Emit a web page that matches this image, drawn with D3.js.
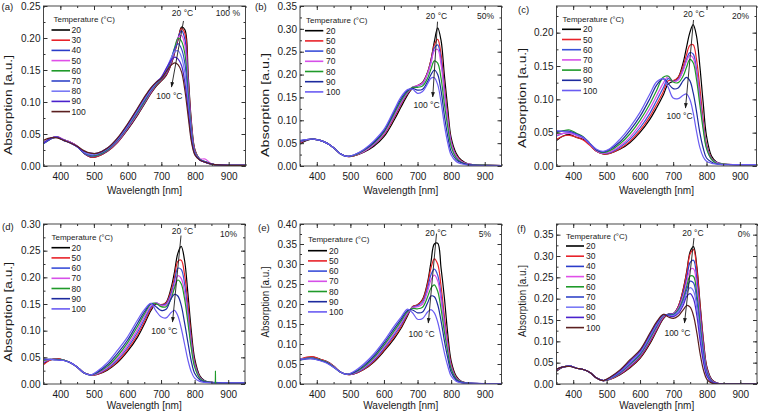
<!DOCTYPE html>
<html><head><meta charset="utf-8">
<script src="https://cdn.jsdelivr.net/npm/d3@7"></script>
<style>
body{margin:0;background:#fff}
text{font-family:"Liberation Sans",Arial,sans-serif;fill:#1a1a1a}
</style>
</head><body>
<svg id="chart" width="760" height="415"></svg>
<script>
// ---------------- data ----------------
const wavelengths = [350,370,390,410,430,450,470,490,510,540,570,600,630,650,670,685,700,715,730,740,750,760,770,780,790,800,815,830,850,900,950];
const temps9 = ["20","30","40","50","60","70","80","90","100"];
const temps7 = ["20","50","60","70","80","90","100"];
const xTickLabels = [400,500,600,700,800,900];

// (a) 100 %
const a20 = [.036,.043,.045,.041,.037,.031,.020,.014,.015,.023,.037,.057,.080,.097,.114,.125,.133,.142,.160,.178,.198,.217,.213,.140,.065,.025,.010,.006,.003,.001,.001];
const a30 = [.036,.043,.046,.041,.037,.031,.020,.014,.015,.023,.037,.058,.081,.098,.115,.126,.134,.143,.161,.179,.199,.215,.207,.135,.062,.024,.010,.006,.003,.001,.001];
const a40 = [.035,.042,.045,.041,.037,.031,.020,.015,.016,.024,.038,.059,.082,.099,.116,.127,.135,.145,.163,.181,.201,.211,.198,.128,.058,.022,.010,.006,.003,.001,.001];
const a50 = [.035,.042,.046,.041,.037,.031,.021,.016,.017,.025,.039,.060,.083,.100,.117,.128,.136,.147,.165,.183,.201,.204,.188,.120,.055,.022,.011,.011,.003,.001,.001];
const a60 = [.035,.042,.045,.040,.036,.030,.021,.016,.017,.025,.040,.061,.084,.101,.118,.128,.136,.148,.167,.186,.200,.195,.175,.112,.052,.021,.010,.007,.003,.001,.001];
const a70 = [.035,.042,.045,.040,.036,.030,.021,.017,.018,.026,.041,.062,.086,.103,.119,.129,.137,.150,.169,.184,.191,.183,.160,.103,.048,.020,.010,.007,.003,.001,.001];
const a80 = [.036,.043,.045,.040,.036,.030,.022,.018,.019,.027,.042,.063,.088,.105,.120,.130,.138,.152,.170,.179,.180,.170,.145,.094,.044,.019,.009,.006,.003,.001,.001];
const a90 = [.036,.043,.045,.040,.036,.030,.023,.020,.020,.028,.043,.065,.090,.107,.122,.131,.139,.153,.166,.170,.167,.157,.130,.085,.040,.018,.009,.006,.003,.001,.001];
const a100 = [.040,.044,.044,.040,.036,.031,.024,.020,.020,.028,.044,.066,.091,.108,.123,.131,.137,.148,.158,.161,.158,.147,.118,.076,.036,.017,.009,.006,.003,.001,.001];

// (b) 50 %
const b20 = [.048,.056,.059,.056,.050,.040,.027,.021,.022,.030,.043,.064,.100,.128,.155,.170,.176,.183,.205,.232,.272,.302,.275,.198,.125,.062,.028,.013,.005,.002,.001];
const b50 = [.050,.057,.059,.056,.050,.040,.027,.021,.022,.031,.046,.068,.105,.133,.158,.171,.176,.182,.205,.232,.265,.277,.245,.175,.110,.055,.024,.011,.004,.002,.001];
const b60 = [.052,.057,.059,.056,.050,.040,.027,.021,.023,.032,.047,.070,.108,.136,.160,.172,.175,.180,.203,.228,.258,.265,.232,.165,.102,.052,.022,.010,.004,.002,.001];
const b70 = [.054,.058,.059,.056,.050,.040,.027,.021,.023,.032,.048,.071,.110,.138,.161,.173,.176,.181,.202,.225,.252,.255,.222,.158,.098,.050,.021,.010,.004,.002,.001];
const b80 = [.055,.058,.059,.056,.050,.040,.027,.021,.023,.034,.050,.074,.114,.142,.163,.172,.172,.175,.192,.212,.230,.225,.192,.135,.085,.043,.018,.008,.003,.002,.001];
const b90 = [.055,.058,.059,.056,.050,.040,.027,.021,.024,.035,.052,.077,.118,.146,.165,.170,.166,.168,.185,.200,.210,.200,.165,.110,.065,.032,.014,.007,.003,.001,.001];
const b100 = [.056,.058,.059,.056,.050,.040,.027,.021,.024,.036,.055,.080,.122,.150,.167,.168,.159,.163,.180,.192,.193,.178,.140,.090,.050,.024,.010,.005,.002,.001,.001];

// (c) 20 %
const c20 = [.038,.045,.047,.043,.040,.032,.022,.018,.019,.025,.035,.050,.070,.087,.106,.123,.127,.133,.155,.178,.200,.212,.195,.150,.095,.045,.015,.006,.003,.002,.002];
const c50 = [.040,.045,.046,.043,.039,.031,.022,.018,.019,.026,.037,.053,.074,.092,.111,.128,.128,.133,.150,.167,.181,.182,.160,.118,.070,.033,.012,.005,.003,.002,.002];
const c60 = [.045,.049,.050,.046,.042,.033,.023,.019,.020,.028,.040,.057,.079,.098,.117,.131,.127,.130,.145,.160,.170,.168,.145,.105,.062,.030,.011,.005,.003,.002,.002];
const c70 = [.046,.049,.049,.046,.042,.033,.023,.019,.021,.030,.043,.062,.086,.105,.124,.134,.127,.129,.143,.157,.166,.162,.140,.100,.060,.028,.010,.005,.003,.002,.002];
const c80 = [.050,.053,.054,.049,.044,.034,.024,.020,.023,.033,.048,.068,.093,.113,.133,.135,.126,.125,.135,.148,.160,.155,.130,.092,.055,.026,.010,.004,.003,.002,.002];
const c90 = [.052,.052,.052,.048,.043,.034,.024,.021,.025,.036,.053,.074,.101,.121,.131,.124,.116,.117,.128,.133,.128,.110,.082,.050,.027,.012,.006,.003,.002,.002,.002];
const c100 = [.053,.052,.051,.047,.043,.034,.025,.022,.026,.040,.058,.080,.108,.126,.131,.118,.102,.101,.106,.108,.100,.080,.052,.028,.014,.007,.004,.003,.002,.002,.002];

// (d) 10 %
const d20 = [.038,.045,.047,.045,.040,.032,.021,.017,.018,.026,.040,.061,.088,.112,.138,.150,.148,.153,.180,.210,.245,.258,.232,.170,.100,.048,.016,.006,.003,.002,.002];
const d50 = [.036,.045,.047,.045,.040,.032,.021,.017,.018,.027,.042,.064,.092,.116,.141,.151,.149,.152,.175,.200,.230,.232,.205,.150,.088,.042,.014,.005,.003,.002,.002];
const d60 = [.040,.046,.046,.045,.040,.032,.021,.017,.019,.029,.045,.068,.097,.121,.144,.152,.148,.150,.170,.192,.217,.215,.188,.135,.080,.038,.013,.005,.003,.002,.002];
const d70 = [.042,.046,.046,.045,.040,.032,.021,.017,.020,.031,.048,.072,.102,.126,.147,.152,.147,.148,.165,.185,.203,.198,.172,.125,.073,.035,.012,.005,.003,.002,.002];
const d80 = [.044,.046,.046,.045,.040,.032,.021,.017,.021,.033,.052,.077,.108,.131,.150,.151,.145,.145,.160,.180,.195,.188,.160,.115,.067,.032,.011,.005,.003,.002,.002];
const d90 = [.046,.046,.045,.044,.040,.032,.021,.017,.022,.036,.057,.082,.114,.135,.151,.145,.138,.140,.160,.168,.165,.148,.115,.078,.043,.020,.008,.004,.003,.002,.002];
const d100 = [.047,.046,.045,.044,.040,.032,.021,.017,.024,.040,.063,.088,.120,.139,.151,.137,.126,.124,.134,.138,.128,.105,.075,.045,.023,.011,.005,.003,.002,.002,.002];
const dSpikeWl = [859,861.5,862,862.5,865];
const dSpikeVal = [0.002,0.002,0.025,0.002,0.002];

// (e) 5 %
const e20 = [.060,.066,.067,.062,.056,.045,.030,.024,.025,.036,.055,.082,.113,.138,.170,.193,.198,.212,.255,.305,.350,.352,.290,.215,.125,.058,.020,.007,.002,.001,.001];
const e50 = [.062,.067,.068,.062,.056,.045,.030,.024,.025,.037,.057,.085,.117,.142,.173,.193,.198,.210,.250,.290,.313,.300,.245,.170,.105,.050,.017,.006,.002,.001,.001];
const e60 = [.062,.064,.065,.060,.055,.044,.030,.024,.026,.039,.060,.089,.122,.147,.176,.192,.196,.205,.240,.273,.287,.272,.222,.155,.095,.045,.015,.006,.002,.001,.001];
const e70 = [.062,.064,.064,.060,.054,.044,.030,.024,.027,.041,.063,.093,.127,.151,.178,.191,.193,.200,.232,.260,.272,.258,.210,.147,.090,.043,.014,.005,.002,.001,.001];
const e80 = [.060,.064,.064,.060,.054,.043,.030,.024,.028,.043,.066,.097,.132,.156,.181,.189,.188,.192,.218,.240,.248,.232,.188,.130,.080,.038,.013,.005,.002,.001,.001];
const e90 = [.060,.063,.063,.059,.053,.042,.030,.024,.029,.046,.070,.102,.138,.161,.184,.185,.178,.180,.203,.220,.218,.198,.158,.108,.065,.030,.010,.004,.002,.001,.001];
const e100 = [.062,.063,.063,.058,.052,.042,.030,.024,.031,.050,.075,.107,.144,.166,.187,.178,.162,.164,.180,.186,.178,.155,.118,.078,.045,.020,.007,.003,.002,.001,.001];

// (f) 0 %
const f20 = [.030,.040,.042,.037,.034,.027,.014,.008,.011,.022,.038,.060,.095,.125,.153,.164,.165,.183,.225,.265,.310,.322,.275,.185,.100,.040,.010,.002,.000,.000,.000];
const f30 = [.032,.040,.042,.037,.034,.027,.014,.008,.011,.023,.040,.062,.098,.127,.155,.164,.165,.183,.223,.262,.305,.315,.268,.180,.097,.038,.009,.002,.000,.000,.000];
const f40 = [.033,.040,.042,.037,.034,.027,.014,.008,.012,.024,.042,.065,.101,.130,.157,.164,.165,.180,.215,.250,.285,.290,.245,.165,.088,.034,.008,.002,.000,.000,.000];
const f50 = [.033,.040,.042,.037,.034,.027,.014,.008,.012,.025,.044,.067,.104,.132,.158,.163,.164,.178,.208,.240,.268,.270,.228,.152,.080,.031,.007,.001,.000,.000,.000];
const f60 = [.034,.040,.042,.037,.034,.027,.014,.008,.013,.026,.046,.069,.107,.135,.160,.163,.163,.175,.202,.230,.253,.252,.210,.140,.073,.028,.006,.001,.000,.000,.000];
const f70 = [.034,.040,.042,.037,.034,.027,.014,.008,.013,.027,.048,.071,.110,.137,.161,.162,.162,.172,.197,.222,.241,.237,.195,.128,.066,.025,.005,.001,.000,.000,.000];
const f80 = [.035,.040,.042,.037,.034,.027,.014,.008,.014,.029,.051,.074,.113,.140,.162,.161,.160,.170,.192,.214,.226,.218,.178,.115,.058,.022,.004,.001,.000,.000,.000];
const f90 = [.035,.040,.042,.037,.034,.027,.014,.008,.015,.031,.054,.077,.117,.143,.163,.160,.158,.166,.186,.206,.212,.200,.160,.100,.050,.019,.004,.001,.000,.000,.000];
const f100 = [.035,.040,.041,.037,.034,.027,.014,.008,.016,.033,.057,.080,.120,.146,.163,.157,.154,.160,.175,.184,.180,.160,.120,.070,.032,.011,.002,.000,.000,.000,.000];

// ---------------- styles / layout ----------------
const colors9 = ["#000000","#e8232a","#2b3cc9","#e04fe8","#1f9a2a","#3145c8","#7a7af5","#4a22cc","#5b1f1f"];
const colors7 = ["#000000","#e8232a","#3a4fd8","#d650e8","#1f9a2a","#1d2a9e","#6a5cf2"];

const panels = [
 {label:"(a)", tag:"100 %", temps:temps9, colors:colors9, series:[a20,a30,a40,a50,a60,a70,a80,a90,a100],
  frame:[43.5,6,245.5,166], yMax:0.25, yTop:0.25, labelPos:[1.5,9.5], yTitle:{x:12,cy:105,len:100}, xTitleY:194,
  leg:{dx:10,ty:15.7,ry:24,l0:8,l1:26.5,tx:28}, ann:{from:[765.8,.2266],to:[730.2,.1234],t20:[763,.2336],t100:[724,.105],tag:[933.6,.2336]}},
 {label:"(b)", tag:"50%", temps:temps7, colors:colors7, series:[b20,b50,b60,b70,b80,b90,b100],
  frame:[300,6,501.5,166], yMax:0.35, yTop:0.35, labelPos:[255,10], yTitle:{x:269,cy:105,len:104}, xTitleY:194,
  leg:{dx:6,ty:16.7,ry:24.7,l0:5,l1:23.3,tx:26}, ann:{from:[759.5,.3157],to:[745.2,.151],t20:[756.5,.3216],t100:[726.7,.1269],tag:[927.7,.3216]}},
 {label:"(c)", tag:"20%", temps:temps7, colors:colors7, series:[c20,c50,c60,c70,c80,c90,c100],
  frame:[556.5,6,756.5,166], yMax:0.24, yTop:0.20, labelPos:[518,13], yTitle:{x:526,cy:98,len:100}, xTitleY:194,
  leg:{dx:6,ty:15.7,ry:23.3,l0:5.5,l1:24.5,tx:26.5}, ann:{from:[761,.219],to:[737,.087],t20:[762.5,.2228],t100:[719,.0705],tag:[927.5,.2205]}},
 {label:"(d)", tag:"10%", temps:temps7, colors:colors7, series:[d20,d50,d60,d70,d80,d90,d100], spike:true,
  frame:[43.5,224,245,384], yMax:0.30, yTop:0.30, labelPos:[2,229.5], yTitle:{x:12,cy:312,len:100}, xTitleY:409,
  leg:{dx:8,ty:16,ry:23.7,l0:8,l1:26.5,tx:28}, ann:{from:[759.5,.2784],to:[734.2,.1163],t20:[764,.2813],t100:[710,.0938],tag:[926.2,.2756]}},
 {label:"(e)", tag:"5%", temps:temps7, colors:colors7, series:[e20,e50,e60,e70,e80,e90,e100],
  frame:[300,224,501.5,384], yMax:0.40, yTop:0.40, labelPos:[258,231], yTitle:{x:269,cy:302,len:71}, xTitleY:409,
  leg:{dx:8,ty:18,ry:26.7,l0:8,l1:27,tx:29}, ann:{from:[756.5,.376],to:[732,.1525],t20:[755,.37],t100:[711.8,.1175],tag:[918.8,.3675]}},
 {label:"(f)", tag:"0%", temps:temps9, colors:colors9, series:[f20,f30,f40,f50,f60,f70,f80,f90,f100],
  frame:[556.5,224,757,384], yMax:0.375, yTop:0.35, labelPos:[517,232], yTitle:{x:526,cy:301,len:72}, xTitleY:409,
  leg:{dx:9.5,ty:15,ry:22,l0:9.5,l1:27.5,tx:29.5}, ann:{from:[761.4,.3422],to:[733,.143],t20:[758.4,.3469],t100:[712,.1125],tag:[929,.3445]}}
];

const svg = d3.select("#chart");
const defs = svg.append("defs");
defs.append("marker").attr("id","arrow").attr("viewBox","0 0 10 10")
  .attr("refX",9).attr("refY",5).attr("markerWidth",6).attr("markerHeight",6).attr("orient","auto")
  .append("path").attr("d","M0,1.5L10,5L0,8.5Z").attr("fill","#1a1a1a");

function styleAxis(g){
  g.select(".domain").remove();
  g.attr("color","#333").attr("font-family",'"Liberation Sans",Arial,sans-serif').attr("font-size",10);
  g.selectAll("text").attr("fill","#1a1a1a");
}

panels.forEach((p,i)=>{
  const [x0,y0,x1,y1] = p.frame;
  const x = d3.scaleLinear().domain([350,950]).range([x0,x1]);
  const y = d3.scaleLinear().domain([0,p.yMax]).range([y1,y0]);
  const g = svg.append("g");

  defs.append("clipPath").attr("id","clip"+i).append("rect")
    .attr("x",x0).attr("y",y0).attr("width",x1-x0).attr("height",y1-y0);

  const line = d3.line().x((d,j)=>x(wavelengths[j])).y(d=>y(d)).curve(d3.curveCatmullRom.alpha(0.5));
  const cg = g.append("g").attr("clip-path",`url(#clip${i})`);
  p.series.forEach((vals,k)=>{
    cg.append("path").attr("d",line(vals)).attr("fill","none")
      .attr("stroke",p.colors[k]).attr("stroke-width",1.2).attr("stroke-linejoin","round");
  });
  if(p.spike){
    const sl = d3.line().x((d,j)=>x(dSpikeWl[j])).y(d=>y(d));
    cg.append("path").attr("d",sl(dSpikeVal)).attr("fill","none").attr("stroke",colors7[4]).attr("stroke-width",1.1);
  }

  // axes
  const yTicks = d3.range(0,p.yTop+1e-9,0.05);
  const yMinor = d3.range(0,p.yMax+1e-9,0.025);
  const xMinor = d3.range(350,951,50);
  g.append("g").attr("transform",`translate(0,${y1})`).call(d3.axisBottom(x).tickValues(xMinor).tickSize(-2).tickFormat("")).call(styleAxis);
  g.append("g").attr("transform",`translate(0,${y1})`).call(d3.axisBottom(x).tickValues(xTickLabels).tickSize(-4).tickPadding(7)).call(styleAxis);
  g.append("g").attr("transform",`translate(0,${y0})`).call(d3.axisTop(x).tickValues(xMinor).tickSize(-2).tickFormat("")).call(styleAxis);
  g.append("g").attr("transform",`translate(0,${y0})`).call(d3.axisTop(x).tickValues(xTickLabels).tickSize(-4).tickFormat("")).call(styleAxis);
  g.append("g").attr("transform",`translate(${x0},0)`).call(d3.axisLeft(y).tickValues(yMinor).tickSize(-2).tickFormat("")).call(styleAxis);
  g.append("g").attr("transform",`translate(${x0},0)`).call(d3.axisLeft(y).tickValues(yTicks).tickSize(-4).tickPadding(3).tickFormat(d3.format(".2f"))).call(styleAxis);
  g.append("g").attr("transform",`translate(${x1},0)`).call(d3.axisRight(y).tickValues(yMinor).tickSize(-2).tickFormat("")).call(styleAxis);
  g.append("g").attr("transform",`translate(${x1},0)`).call(d3.axisRight(y).tickValues(yTicks).tickSize(-4).tickFormat("")).call(styleAxis);

  g.append("rect").attr("x",x0).attr("y",y0).attr("width",x1-x0).attr("height",y1-y0)
    .attr("fill","none").attr("stroke","#333").attr("stroke-width",0.9);

  // titles
  g.append("text").attr("x",(x0+x1)/2).attr("y",p.xTitleY).attr("text-anchor","middle")
    .attr("font-size",11).attr("textLength",75).attr("lengthAdjust","spacingAndGlyphs").text("Wavelength [nm]");
  g.append("text").attr("transform",`translate(${p.yTitle.x},${p.yTitle.cy}) rotate(-90)`).attr("text-anchor","middle")
    .attr("font-size",11).attr("textLength",p.yTitle.len).attr("lengthAdjust","spacingAndGlyphs").text("Absorption [a.u.]");
  g.append("text").attr("x",p.labelPos[0]).attr("y",p.labelPos[1]).attr("font-size",9.5).text(p.label);

  // legend
  const L = p.leg;
  g.append("text").attr("x",x0+L.dx).attr("y",y0+L.ty).attr("font-size",8).text("Temperature (°C)");
  p.temps.forEach((t,k)=>{
    const ry = y0+L.ry+k*10.2;
    g.append("line").attr("x1",x0+L.l0).attr("x2",x0+L.l1).attr("y1",ry).attr("y2",ry)
      .attr("stroke",p.colors[k]).attr("stroke-width",1.6);
    g.append("text").attr("x",x0+L.tx).attr("y",ry+3).attr("font-size",8.5).text(t);
  });

  // annotations
  const A = p.ann;
  g.append("line").attr("x1",x(A.from[0])).attr("y1",y(A.from[1])).attr("x2",x(A.to[0])).attr("y2",y(A.to[1]))
    .attr("stroke","#1a1a1a").attr("stroke-width",0.9).attr("marker-end","url(#arrow)");
  g.append("text").attr("x",x(A.t20[0])).attr("y",y(A.t20[1])).attr("text-anchor","middle").attr("font-size",8.5).text("20 °C");
  g.append("text").attr("x",x(A.t100[0])).attr("y",y(A.t100[1])).attr("text-anchor","middle").attr("font-size",8.5).text("100 °C");
  g.append("text").attr("x",x(A.tag[0])).attr("y",y(A.tag[1])).attr("text-anchor","end").attr("font-size",8.5).text(p.tag);
});
</script>
</body></html>
